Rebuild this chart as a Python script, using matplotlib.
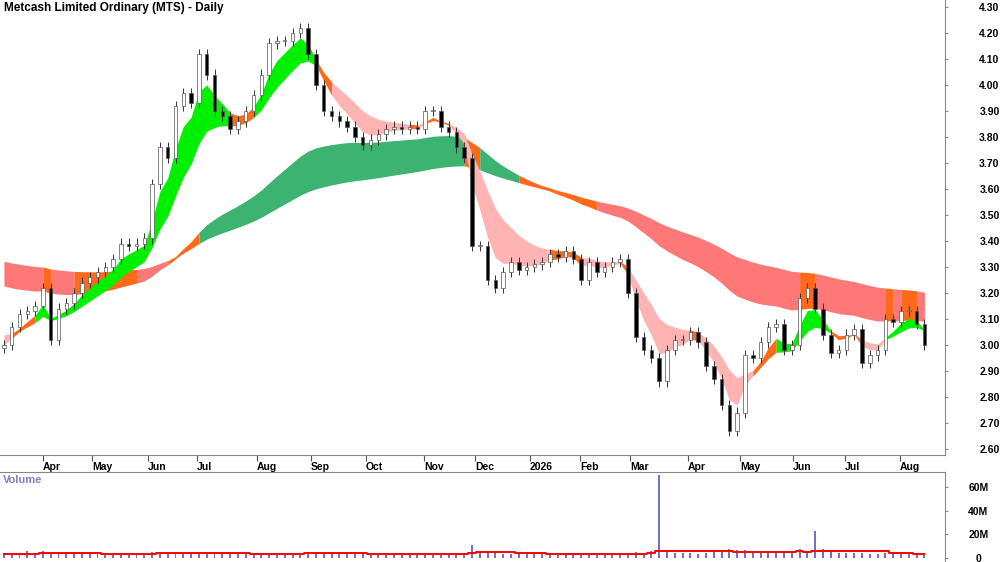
import numpy as np
import matplotlib.pyplot as plt

plt.rcParams['font.family'] = ['Liberation Sans', 'DejaVu Sans']

# closes, one per 3 trading days
warmup_close = [3.50, 3.52, 3.48, 3.55, 3.50, 3.47, 3.52, 3.49, 3.46, 3.50, 3.48, 3.45,
                3.47, 3.44, 3.46, 3.43, 3.45, 3.42, 3.44, 3.40, 3.43, 3.41, 3.38, 3.40,
                3.42, 3.45, 3.40, 3.44, 3.41, 3.38, 3.42, 3.40, 3.37, 3.39, 3.36, 3.38,
                3.34, 3.35, 3.30, 3.28, 3.25, 3.22, 3.18, 3.15, 3.12, 3.10, 3.08, 3.05,
                3.03, 3.02, 3.00, 2.98, 3.00, 2.99]
close = [3.00, 3.07, 3.12, 3.13, 3.15, 3.22, 3.02, 3.14, 3.16, 3.20,
         3.24, 3.26, 3.28, 3.30, 3.33, 3.39, 3.38, 3.39, 3.41, 3.62,
         3.76, 3.72, 3.92, 3.97, 3.93, 4.12, 4.04, 3.90, 3.88, 3.83,
         3.86, 3.90, 3.96, 4.04, 4.16, 4.17, 4.17, 4.20, 4.22, 4.12,
         4.00, 3.90, 3.88, 3.86, 3.84, 3.80, 3.77, 3.79, 3.81, 3.83,
         3.84, 3.83, 3.84, 3.83, 3.90, 3.90, 3.84, 3.82, 3.76, 3.72,
         3.38, 3.38, 3.25, 3.22, 3.28, 3.32, 3.29, 3.30, 3.31, 3.32,
         3.35, 3.34, 3.36, 3.33, 3.25, 3.32, 3.28, 3.30, 3.32, 3.33,
         3.20, 3.03, 2.98, 2.95, 2.86, 2.98, 3.02, 3.02, 3.05, 3.01,
         2.92, 2.87, 2.77, 2.67, 2.74, 2.96, 2.95, 3.01, 3.07, 3.08,
         2.98, 3.00, 3.18, 3.22, 3.14, 3.04, 2.97, 2.98, 3.04, 3.06,
         2.93, 2.96, 2.98, 3.10, 3.09, 3.13, 3.13, 3.08, 3.00]
volume_m = [3.5, 4.0, 3.2, 6.0, 3.5, 5.5, 4.5, 3.8, 3.0, 3.6,
            3.2, 3.0, 3.4, 4.0, 3.1, 4.2, 3.3, 3.6, 4.5, 5.0,
            4.0, 3.8, 5.2, 4.2, 3.9, 4.0, 3.5, 4.8, 3.6, 3.2,
            3.4, 3.8, 3.3, 3.5, 3.6, 4.0, 3.9, 4.5, 3.6, 5.0,
            4.2, 3.8, 3.4, 3.6, 3.3, 3.2, 3.8, 3.5, 3.4, 3.6,
            3.2, 3.3, 3.5, 3.7, 3.9, 3.4, 3.6, 3.3, 3.8, 4.5,
            11.0, 6.0, 4.0, 3.8, 3.4, 3.2, 3.0, 3.3, 3.5, 3.2,
            3.0, 3.4, 3.6, 3.1, 3.3, 3.5, 3.2, 3.4, 3.6, 4.0,
            4.5, 5.0, 4.2, 5.5, 70.0, 6.0, 4.2, 3.8, 4.0, 3.6,
            4.4, 4.8, 5.0, 8.0, 6.5, 7.0, 4.5, 4.0, 3.8, 4.2,
            4.6, 5.0, 7.5, 6.0, 23.0, 8.0, 5.0, 4.2, 3.8, 4.0,
            4.4, 3.6, 3.5, 3.8, 3.6, 3.4, 3.8, 3.5, 3.6]
month_labels = ['Apr', 'May', 'Jun', 'Jul', 'Aug', 'Sep', 'Oct', 'Nov', 'Dec',
                '2026', 'Feb', 'Mar', 'Apr', 'May', 'Jun', 'Jul', 'Aug']
month_px = [43, 92, 148, 197, 257, 311, 366, 424, 475, 530, 580, 630, 688, 740, 793, 845, 900]

short_days = [12, 15, 18, 22, 26, 30]
long_days = [120, 140, 160, 180, 200, 230]

LIME, PINK, ORANGE = '#00f000', '#ffb3b3', '#ff6a1a'
LGREEN, LRED = '#3cb371', '#ff7878'


def ema_group(prices, days):
    out = []
    for d in days:
        span = d / 3.0
        a = 2.0 / (span + 1.0)
        e = np.empty(len(prices))
        e[0] = prices[0]
        for k in range(1, len(prices)):
            e[k] = a * prices[k] + (1 - a) * e[k - 1]
        out.append(e)
    return np.array(out)


allc = np.array(warmup_close + close)
nw = len(warmup_close)
short = ema_group(allc, short_days)[:, nw:]
long_ = ema_group(allc, long_days)[:, nw:]
c = np.array(close)
n = len(c)
x = np.arange(n)

s_lo, s_hi = short.min(axis=0), short.max(axis=0)
l_lo, l_hi = long_.min(axis=0), long_.max(axis=0)

s_col, l_col = [], []
for i in range(n):
    d = np.diff(short[:, i])
    if np.all(d <= 0):
        s_col.append(LIME)
    elif np.all(d >= 0):
        s_col.append(PINK)
    else:
        s_col.append(ORANGE)
    d = np.diff(long_[:, i])
    rising = np.all(d <= 0)
    overlap = s_lo[i] <= l_hi[i] and s_hi[i] >= l_lo[i]
    inside = l_lo[i] <= c[i] <= l_hi[i]
    if overlap or (inside and not rising):
        l_col.append(ORANGE)
    elif rising:
        l_col.append(LGREEN)
    elif np.all(d >= 0):
        l_col.append(LRED)
    else:
        l_col.append(ORANGE)

fig = plt.figure(figsize=(10, 5.62), dpi=100)
ax = fig.add_axes([0, 1 - 455 / 562, 0.945, 455 / 562])
axv = fig.add_axes([0, 0, 0.945, 90 / 562])


def band(lo, hi, cols):
    start = 0
    for i in range(1, n + 1):
        if i == n or cols[i] != cols[start]:
            end = min(i, n - 1)
            ax.fill_between(x[start:end + 1], lo[start:end + 1], hi[start:end + 1],
                            color=cols[start], lw=0, zorder=1)
            start = i


band(l_lo, l_hi, l_col)
band(s_lo, s_hi, s_col)

opens = np.concatenate([[warmup_close[-1]], c[:-1]])
wick = 0.02
for i in range(n):
    o, cl = opens[i], c[i]
    ax.vlines(i, min(o, cl) - wick, max(o, cl) + wick, color='#333333', lw=0.7, zorder=2)
    face = 'white' if cl >= o else 'black'
    ax.bar(i, max(abs(cl - o), 0.004), bottom=min(o, cl), width=0.45, color=face,
           edgecolor='#555555', lw=0.5, zorder=3)

ax.set_xlim(-0.5, (945 - 4) / 7.8)
ax.set_ylim(4.30 - 448 / 260, 4.30 + 7 / 260)
ax.yaxis.tick_right()
ax.set_yticks(np.arange(2.6, 4.31, 0.1))
ax.set_yticklabels([f'{v:.2f}' for v in np.arange(2.6, 4.31, 0.1)], fontsize=7.5,
                   fontweight='bold')
ax.tick_params(axis='y', length=2, pad=30, color='#888888')
for lab in ax.get_yticklabels():
    lab.set_horizontalalignment('center')
ax.set_xticks([(p - 4) / 7.8 for p in month_px])
ax.set_xticklabels(month_labels, fontsize=7.5, fontweight='bold')
ax.tick_params(axis='x', length=4, direction='out', pad=1, color='#555555')
for lab in ax.get_xticklabels():
    lab.set_horizontalalignment('left')
for s in ['top', 'left']:
    ax.spines[s].set_visible(False)
ax.spines['right'].set_color('#888888')
ax.spines['bottom'].set_color('#888888')
ax.text(0.004, 0.995, 'Metcash Limited Ordinary (MTS) - Daily', transform=ax.transAxes,
        fontsize=8.5, fontweight='bold', va='top', ha='left')

v = np.array(volume_m)
axv.bar(x, v, width=0.25, color='#7070d0', zorder=2)
vma = np.convolve(np.concatenate([[v[0]] * 9, v]), np.ones(10) / 10, mode='valid')
vma = np.minimum(vma, np.median(v) * 1.6)
axv.step(x, vma, where='mid', color='red', lw=1.4, zorder=3)
axv.set_xlim(ax.get_xlim())
axv.set_ylim(-4 / 23.7 * 20, (558 - 472) / 23.7 * 20)
axv.yaxis.tick_right()
axv.set_yticks([0, 20, 40, 60])
axv.set_yticklabels(['0', '20M', '40M', '60M'], fontsize=7.5, fontweight='bold')
axv.tick_params(axis='y', length=2, pad=22, color='#888888')
for lab in axv.get_yticklabels():
    lab.set_horizontalalignment('center')
axv.set_xticks([])
for s in ['bottom', 'left']:
    axv.spines[s].set_visible(False)
axv.spines['right'].set_color('#888888')
axv.spines['top'].set_color('#888888')
axv.text(0.003, 0.97, 'Volume', transform=axv.transAxes, fontsize=8, fontweight='bold',
         color='#8080c8', va='top')

fig.savefig('out.png', dpi=100)
